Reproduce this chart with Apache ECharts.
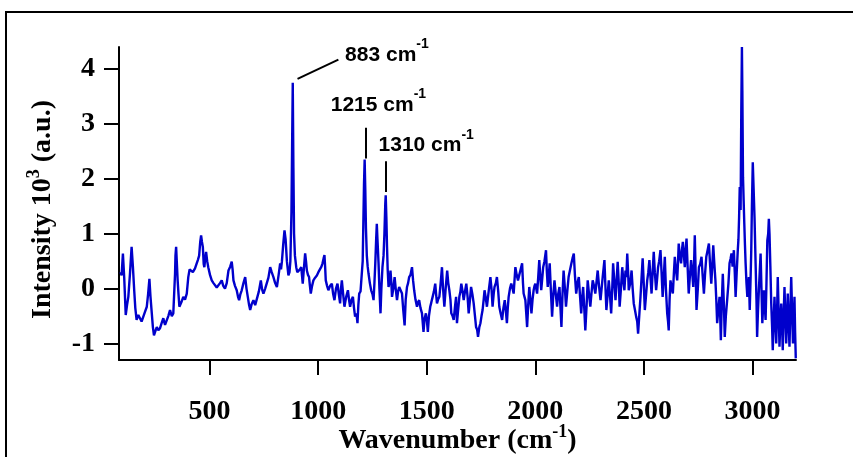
<!DOCTYPE html>
<html><head><meta charset="utf-8">
<script src="https://cdn.jsdelivr.net/npm/echarts@6/dist/echarts.min.js"></script>
<style>html,body{margin:0;padding:0;background:#fff}#c{width:853px;height:457px}</style>
</head><body><div id="c"></div>
<script>
const wavenumber = [
90,95,101,107,114,120,126,134,141,147,153,158,164,172,180,187,195,203,211,217,223,228,234,239,244,250,257,264,272,280,287,295,303,310,318,326,333,338,341,343,346,349,353,357,361,370,379,387,395,402,408,415,423,433,440,446,452,457,461,465,469,473,476,480,484,489,494,502,510,518,525,533,541,548,556,563,571,579,587,595,602,606,610,617,625,631,636,642,648,656,664,670,676,682,687,694,702,710,718,727,736,742,748,756,764,771,779,786,794,802,810,818,825,829,833,839,845,850,856,863,868,872,877,880,883,886,889,893,899,904,909,916,922,929,934,940,944,948,953,958,962,966,972,978,986,994,1001,1009,1015,1020,1025,1029,1032,1035,1041,1047,1055,1063,1069,1075,1082,1089,1095,1101,1105,1109,1115,1121,1129,1137,1142,1147,1154,1160,1165,1170,1176,1181,1185,1189,1195,1201,1205,1208,1211,1214,1217,1220,1224,1228,1232,1238,1244,1250,1255,1259,1263,1267,1270,1273,1278,1282,1287,1291,1296,1301,1305,1309,1311,1314,1317,1320,1324,1328,1333,1337,1340,1346,1352,1357,1363,1368,1373,1380,1386,1392,1398,1403,1409,1414,1419,1425,1432,1437,1442,1448,1455,1460,1465,1471,1478,1485,1490,1496,1501,1505,1510,1516,1521,1527,1533,1539,1543,1547,1552,1558,1564,1570,1575,1581,1587,1594,1599,1604,1609,1613,1619,1624,1630,1635,1639,1643,1650,1655,1659,1665,1670,1676,1682,1688,1693,1699,1704,1710,1716,1722,1727,1732,1736,1742,1747,1752,1757,1762,1766,1771,1777,1785,1793,1798,1803,1808,1812,1818,1823,1829,1834,1840,1847,1853,1859,1864,1869,1873,1877,1883,1889,1895,1900,1904,1908,1914,1920,1926,1931,1935,1939,1943,1946,1950,1954,1958,1962,1967,1972,1977,1982,1987,1992,1996,2000,2004,2008,2013,2018,2023,2027,2032,2036,2042,2049,2053,2057,2062,2066,2071,2077,2082,2088,2094,2100,2105,2111,2115,2120,2125,2130,2136,2141,2147,2153,2160,2166,2171,2177,2182,2188,2194,2200,2205,2211,2215,2220,2225,2230,2236,2241,2247,2253,2258,2264,2270,2276,2281,2287,2293,2300,2305,2310,2318,2322,2327,2333,2338,2344,2349,2354,2358,2364,2369,2374,2379,2384,2388,2394,2400,2405,2410,2415,2419,2423,2427,2430,2437,2443,2448,2453,2459,2464,2469,2473,2479,2484,2489,2494,2499,2504,2510,2515,2520,2525,2530,2535,2540,2545,2550,2556,2560,2565,2570,2576,2581,2586,2591,2596,2601,2607,2611,2614,2618,2622,2628,2633,2638,2642,2647,2653,2657,2660,2665,2671,2675,2679,2684,2688,2692,2696,2701,2706,2711,2717,2722,2727,2731,2734,2738,2742,2748,2753,2759,2765,2770,2776,2781,2787,2793,2799,2805,2810,2815,2819,2824,2829,2833,2837,2842,2848,2851,2854,2858,2863,2868,2872,2877,2883,2889,2894,2899,2903,2908,2914,2918,2922,2927,2932,2935,2938,2941,2945,2948,2951,2953,2956,2959,2962,2965,2968,2972,2976,2980,2983,2987,2991,2994,2997,3001,3005,3009,3014,3018,3021,3025,3029,3033,3037,3041,3045,3049,3052,3056,3060,3064,3068,3072,3075,3078,3082,3086,3090,3093,3097,3101,3105,3109,3113,3116,3120,3124,3128,3132,3136,3139,3143,3147,3151,3155,3159,3162,3166,3170,3174,3178,3182,3186,3190,3193,3196,3199
];
const intensity = [
0.30,0.24,0.64,0.2,-0.48,-0.3,-0.15,0.3,0.76,0.4,-0.03,-0.35,-0.57,-0.48,-0.45,-0.6,-0.57,-0.42,-0.33,-0.1,0.18,-0.15,-0.45,-0.7,-0.85,-0.78,-0.70,-0.76,-0.72,-0.62,-0.54,-0.66,-0.63,-0.5,-0.39,-0.5,-0.45,0.0,0.27,0.6,0.76,0.5,0.15,-0.1,-0.33,-0.25,-0.15,-0.2,-0.09,0.21,0.35,0.37,0.30,0.37,0.45,0.52,0.6,0.85,0.97,0.85,0.76,0.45,0.39,0.55,0.67,0.5,0.39,0.25,0.15,0.1,0.09,0.02,0.0,0.1,0.15,0.05,0.0,0.1,0.33,0.4,0.49,0.35,0.15,0.05,-0.03,-0.15,-0.21,-0.1,-0.03,0.1,0.21,0.0,-0.15,-0.3,-0.39,-0.28,-0.21,-0.3,-0.27,-0.05,0.15,-0.02,-0.09,0.0,-0.03,0.2,0.39,0.3,0.21,0.1,0.03,0.25,0.46,0.35,0.49,0.8,1.06,0.9,0.5,0.24,0.3,0.5,1.4,2.6,3.75,2.2,1.0,0.6,0.39,0.3,0.27,0.35,0.39,0.09,0.35,0.64,0.5,0.33,0.25,0.21,0.05,-0.09,0.05,0.15,0.2,0.24,0.3,0.33,0.4,0.46,0.55,0.61,0.4,0.15,0.05,-0.03,0.05,0.09,-0.1,-0.21,0.0,0.09,-0.1,-0.27,0.0,0.15,-0.1,-0.33,-0.15,-0.03,-0.2,-0.33,-0.2,-0.15,-0.35,-0.51,-0.45,-0.63,-0.3,-0.09,-0.05,-0.03,0.5,1.2,1.9,2.35,1.8,1.1,0.6,0.4,0.27,0.1,-0.03,-0.1,-0.21,0.1,0.46,0.9,1.18,0.9,0.46,0.0,-0.45,0.0,0.39,0.6,1.0,1.55,1.70,1.3,0.76,0.35,0.03,0.1,0.33,0.1,-0.15,0.0,0.21,0.0,-0.21,-0.05,0.03,0.0,-0.09,-0.4,-0.67,-0.2,0.03,0.1,0.21,0.25,0.39,0.15,-0.03,-0.2,-0.33,-0.25,-0.21,-0.35,-0.45,-0.79,-0.55,-0.45,-0.6,-0.79,-0.5,-0.33,-0.25,-0.15,-0.05,0.09,-0.1,-0.27,-0.2,-0.15,0.1,0.39,0.0,-0.33,0.0,0.33,0.1,-0.03,-0.2,-0.45,-0.5,-0.57,-0.33,-0.15,-0.63,-0.45,-0.15,-0.05,0.09,-0.05,-0.21,-0.05,0.09,-0.15,-0.45,-0.2,0.03,-0.1,-0.27,-0.5,-0.70,-0.75,-0.88,-0.7,-0.63,-0.5,-0.39,-0.2,-0.03,-0.15,-0.33,-0.05,0.21,0.0,-0.33,-0.1,0.03,0.1,0.21,-0.05,-0.33,-0.45,-0.57,-0.35,-0.21,-0.4,-0.63,-0.35,-0.15,0.0,0.09,0.0,-0.09,0.15,0.39,0.25,0.15,0.25,0.33,0.35,0.46,0.1,-0.09,-0.15,-0.21,-0.45,-0.70,-0.3,0.03,-0.2,-0.45,-0.2,-0.03,0.05,0.09,0.0,-0.09,0.2,0.52,0.2,-0.03,0.2,0.39,0.5,0.70,0.3,0.03,0.25,0.46,0.0,-0.51,-0.15,0.15,-0.1,-0.33,-0.1,0.03,-0.3,-0.70,-0.1,0.33,0.0,-0.33,-0.05,0.21,0.35,0.46,0.55,0.64,0.25,-0.09,0.1,0.21,-0.1,-0.45,-0.2,0.03,-0.35,-0.76,-0.3,0.15,-0.1,-0.33,-0.1,0.15,0.05,-0.09,0.1,0.33,0.05,-0.21,0.0,0.21,0.52,0.1,-0.39,-0.1,0.15,-0.15,-0.45,0.0,0.46,0.1,-0.21,0.15,0.49,0.1,-0.33,0.0,0.39,0.15,-0.03,0.33,0.21,0.64,0.3,-0.03,0.1,0.33,0.0,-0.27,-0.4,-0.51,-0.6,-0.82,-0.45,-0.15,0.2,0.55,0.1,-0.39,-0.1,0.15,0.3,0.52,0.2,-0.09,0.3,0.67,0.3,-0.03,0.15,0.39,0.5,0.70,0.3,-0.15,0.2,0.58,0.0,-0.45,-0.6,-0.76,-0.2,0.15,0.0,-0.09,0.3,0.58,0.35,0.15,0.5,0.82,0.6,0.46,0.7,0.85,0.6,0.39,0.7,0.91,0.4,-0.09,0.2,0.52,0.3,0.03,0.5,0.97,0.3,-0.39,0.0,0.39,0.45,0.58,0.25,-0.09,0.25,0.58,0.7,0.82,0.4,0.09,0.45,0.79,0.45,0.15,-0.2,-0.63,-0.4,-0.15,-0.5,-0.94,-0.3,0.27,-0.3,-0.88,-0.5,-0.21,0.1,0.46,0.55,0.64,0.4,0.70,0.3,-0.15,0.3,0.70,0.9,1.30,1.85,1.43,3.2,4.40,3.6,2.03,1.6,1.18,0.8,0.46,0.1,-0.15,0.0,0.21,-0.39,0.2,0.70,1.5,2.30,1.8,1.30,0.46,-0.2,-0.88,-0.4,-0.03,0.3,0.64,0.0,-0.63,-0.3,-0.03,-0.3,-0.57,0.1,0.88,1.0,1.27,1.0,0.4,-0.27,-0.7,-1.12,-0.6,-0.15,-0.6,-1.0,-0.4,0.21,-0.4,-1.06,-0.6,-0.27,-0.7,-1.12,-0.5,0.03,-0.5,-1.0,-0.5,-0.09,-0.6,-1.06,-0.4,0.21,-0.4,-1.0,-0.6,-0.15,-0.8,-1.27
];
const xTickValues = [500, 1000, 1500, 2000, 2500, 3000];
const yTickValues = [-1, 0, 1, 2, 3, 4];
const peakNames = ['883', '1215', '1310'];
const peakLabelAnchors = [[1124, 4.256], [1058, 3.349], [1278, 2.604]];
const peakLeaders = [
  [[905, 3.82], [1093, 4.17]],
  [[1217, 2.37], [1217, 2.93]],
  [[1313, 1.76], [1313, 2.32]]
];

const serif = '"Liberation Serif", "Times New Roman", Times, serif';
const sans = '"Liberation Sans", Arial, Helvetica, sans-serif';
const chart = echarts.init(document.getElementById('c'), null, {renderer: 'canvas'});
const seriesData = wavenumber.map((w, i) => [w, intensity[i]]);

chart.setOption({
  animation: false,
  backgroundColor: '#fff',
  grid: {left: 119, right: 57, top: 47, bottom: 97, containLabel: false, outerBoundsMode: 'none'},
  xAxis: {
    type: 'value', min: 83, max: 3200,
    axisLine: {onZero: false, lineStyle: {color: '#000', width: 2}},
    axisTick: {customValues: xTickValues, length: 15, lineStyle: {color: '#000', width: 2}},
    axisLabel: {customValues: xTickValues, margin: 38, color: '#000', fontFamily: serif, fontWeight: 'bold', fontSize: 28,
      formatter: v => String(v)},
    splitLine: {show: false},
    name: '{a|Wavenumber (cm}{s|-1}{a|)}',
    nameLocation: 'middle', nameGap: 63, nameMoveOverlap: false,
    nameTextStyle: {
      color: '#000', fontFamily: serif, fontWeight: 'bold', fontSize: 28,
      rich: {
        a: {fontFamily: serif, fontWeight: 'bold', fontSize: 28, color: '#000', padding: [4, 0, 0, 0]},
        s: {fontFamily: serif, fontWeight: 'bold', fontSize: 18, color: '#000', verticalAlign: 'top'}
      }
    }
  },
  yAxis: {
    type: 'value', min: -1.3, max: 4.4,
    axisLine: {lineStyle: {color: '#000', width: 2}},
    axisTick: {customValues: yTickValues, length: 15, lineStyle: {color: '#000', width: 2}},
    axisLabel: {customValues: yTickValues, margin: 24, color: '#000', fontFamily: serif, fontWeight: 'bold', fontSize: 28,
      formatter: v => String(v)},
    splitLine: {show: false},
    name: '{a|Intensity 10}{s|3}{a| (a.u.)}',
    nameLocation: 'middle', nameGap: 62, nameRotate: 90, nameMoveOverlap: false,
    nameTextStyle: {
      color: '#000', fontFamily: serif, fontWeight: 'bold', fontSize: 28,
      padding: [0, 12, 0, 0],
      rich: {
        a: {fontFamily: serif, fontWeight: 'bold', fontSize: 28, color: '#000', padding: [4, 0, 0, 0]},
        s: {fontFamily: serif, fontWeight: 'bold', fontSize: 18, color: '#000', verticalAlign: 'top'}
      }
    }
  },
  series: [{
    type: 'line',
    data: seriesData,
    showSymbol: false, symbol: 'none',
    sampling: null,
    lineStyle: {color: '#0000cc', width: 2.4},
    clip: true,
    silent: true,
    markLine: {
      silent: true, symbol: ['none', 'none'],
      label: {show: false},
      lineStyle: {color: '#000', width: 2, type: 'solid'},
      emphasis: {disabled: true},
      data: peakLeaders.map(seg => [{coord: seg[0]}, {coord: seg[1]}])
    }
  }]
});

const gfx = [{
  type: 'rect', silent: true,
  shape: {x: 6, y: 12, width: 900, height: 500},
  style: {fill: 'none', stroke: '#000', lineWidth: 2}
}];
peakNames.forEach((name, i) => {
  const p = chart.convertToPixel({gridIndex: 0}, peakLabelAnchors[i]);
  gfx.push({
    type: 'text', silent: true, x: p[0], y: p[1] - 3.5,
    style: {
      text: '{a|' + name + ' cm}{s|-1}',
      align: 'left', verticalAlign: 'middle',
      rich: {
        a: {fontFamily: sans, fontWeight: 'bold', fontSize: 21, fill: '#000', padding: [7, 0, 0, 0]},
        s: {fontFamily: sans, fontWeight: 'bold', fontSize: 14, fill: '#000', verticalAlign: 'top'}
      }
    }
  });
});
chart.setOption({graphic: gfx});
</script>
</body></html>
